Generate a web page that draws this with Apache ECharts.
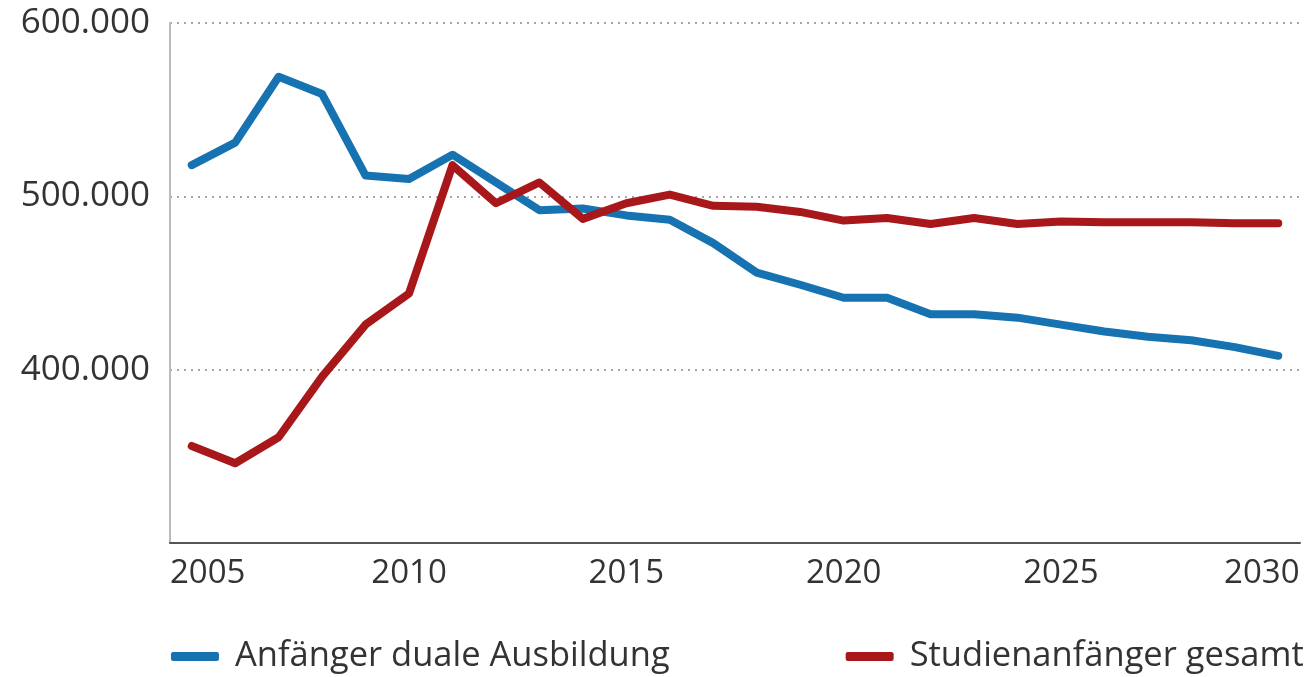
<!DOCTYPE html>
<html>
<head>
<meta charset="utf-8">
<script src="https://cdn.jsdelivr.net/npm/echarts@6/dist/echarts.min.js"></script>
<style>
html,body{margin:0;padding:0;background:#fff;}
#chart{width:1312px;height:677px;}
</style>
</head>
<body>
<div id="chart"></div>
<script>
const years = ['2005','2006','2007','2008','2009','2010','2011','2012','2013','2014','2015','2016','2017','2018','2019','2020','2021','2022','2023','2024','2025','2026','2027','2028','2029','2030'];
const ausbildung = [518000,531000,569000,559000,512000,510000,524000,508000,492000,493000,489000,486500,473000,456000,449000,441500,441500,432000,432000,430000,426000,422000,419000,417000,413000,408000];
const studien = [356000,346000,361000,396000,426000,444000,518000,496000,508000,487000,496000,501000,494500,494000,491000,486000,487500,484000,487500,484000,485500,485000,485000,485000,484500,484500];
const seriesNames = ['Anfänger duale Ausbildung','Studienanfänger gesamt'];
const yTicks = {min:300000, max:600000, interval:100000};

const chart = echarts.init(document.getElementById('chart'));
const font = '"Open Sans", sans-serif';
function fmtNum(v){ return String(v).replace(/\B(?=(\d{3})+(?!\d))/g,'.'); }
chart.setOption({
  animation:false,
  backgroundColor:'#fff',
  grid:{left:170,right:12,top:23,bottom:134},
  legend:{
    left:166, top:634,
    itemWidth:48, itemHeight:9, itemGap:176,
    icon:'roundRect',
    textStyle:{fontFamily:font,fontSize:34.5,color:'#333',padding:[0,0,0,11]},
    data:seriesNames
  },
  xAxis:{
    type:'category',
    data:years,
    boundaryGap:true,
    axisLine:{lineStyle:{color:'#555',width:2}},
    axisTick:{show:false},
    axisLabel:{
      interval:4,
      margin:14,
      fontFamily:font,fontSize:33,color:'#333',
      formatter:function(v,i){
        if(i===0) return '{f|'+v+'}';
        if(i===years.length-1) return '{l|'+v+'}';
        return v;
      },
      rich:{
        f:{fontFamily:font,fontSize:33,color:'#333',padding:[0,0,0,32]},
        l:{fontFamily:font,fontSize:33,color:'#333',padding:[0,33,0,0]}
      }
    }
  },
  yAxis:{
    type:'value',
    min:yTicks.min,max:yTicks.max,interval:yTicks.interval,
    axisLine:{show:true,lineStyle:{color:'#bbb',width:2}},
    axisTick:{show:false},
    axisLabel:{showMinLabel:false,margin:20,fontFamily:font,fontSize:35,color:'#333',formatter:fmtNum},
    splitLine:{lineStyle:{color:'#888',width:1.5,type:[2,5]}}
  },
  series:[
    {name:seriesNames[0],type:'line',data:ausbildung,symbol:'none',
     lineStyle:{color:'#1672b0',width:8,join:'round',cap:'round'},itemStyle:{color:'#1672b0'}},
    {name:seriesNames[1],type:'line',data:studien,symbol:'none',
     lineStyle:{color:'#a8171a',width:8,join:'round',cap:'round'},itemStyle:{color:'#a8171a'}}
  ]
});
</script>
</body>
</html>
